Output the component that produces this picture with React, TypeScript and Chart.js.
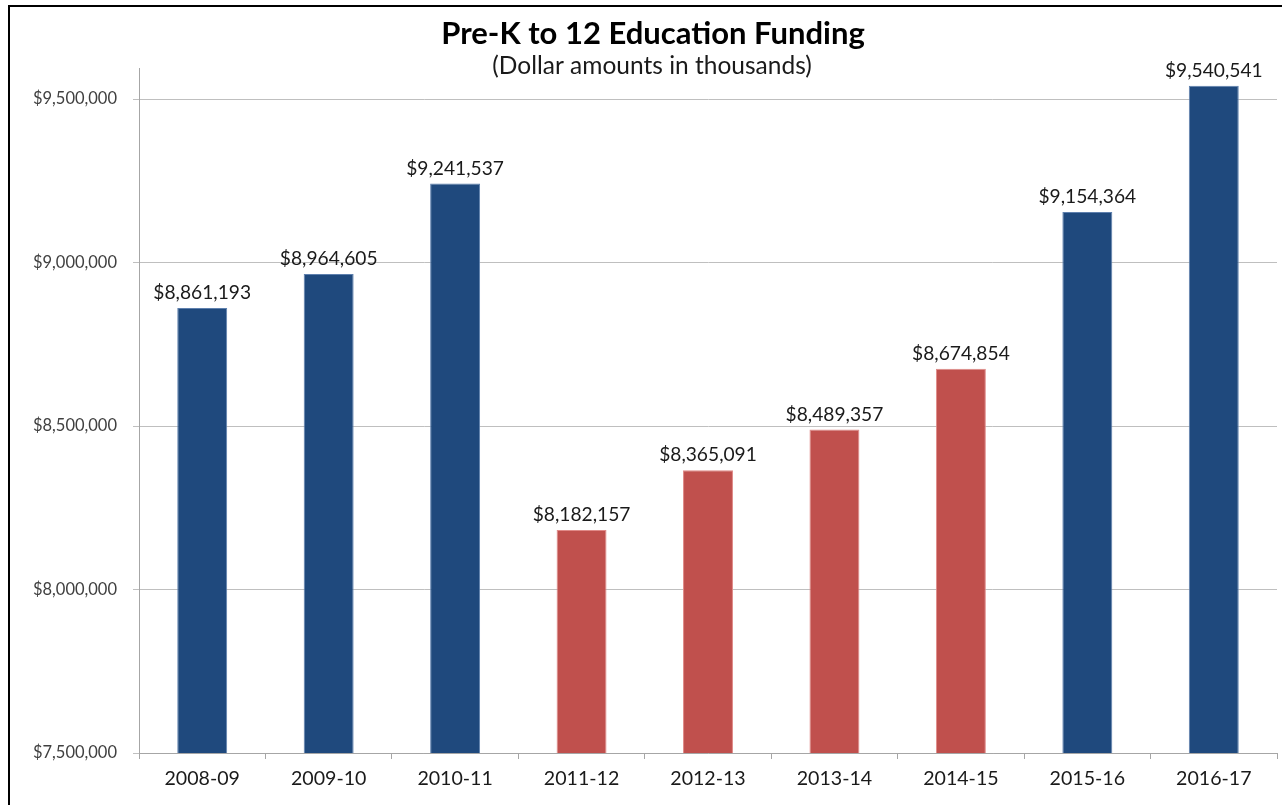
import React, { useEffect, useRef } from "react";
import { Chart, registerables } from "chart.js";

Chart.register(...registerables);

const categories = ["2008-09", "2009-10", "2010-11", "2011-12", "2012-13", "2013-14", "2014-15", "2015-16", "2016-17"];
const funding = [8861193, 8964605, 9241537, 8182157, 8365091, 8489357, 8674854, 9154364, 9540541];
const isReduced = [false, false, false, true, true, true, true, false, false];
const titleText = "Pre-K to 12 Education Funding";
const subtitleText = "(Dollar amounts in thousands)";

const BLUE = "#1F497D";
const BLUE_EDGE = "#5E80AE";
const RED = "#C0504D";
const RED_EDGE = "#E08A88";
const FONT = "Lato, 'Open Sans', sans-serif";

const fmt = (v: number) => "$" + v.toLocaleString("en-US");

export default function App() {
  const ref = useRef<HTMLCanvasElement | null>(null);
  useEffect(() => {
    if (!ref.current) return;
    const decor = {
      id: "decor",
      afterDraw(chart: any) {
        const ctx = chart.ctx;
        ctx.save();
        // frame
        ctx.strokeStyle = "#000";
        ctx.lineWidth = 2;
        ctx.beginPath();
        ctx.moveTo(9, chart.height);
        ctx.lineTo(9, 6);
        ctx.lineTo(chart.width, 6);
        ctx.stroke();
        // titles
        ctx.fillStyle = "#000";
        ctx.textAlign = "center";
        ctx.textBaseline = "alphabetic";
        ctx.font = `bold 31px ${FONT}`;
        ctx.fillText(titleText, 653, 44);
        ctx.fillStyle = "#1a1a1a";
        ctx.font = `24.5px ${FONT}`;
        ctx.fillText(subtitleText, 652, 74);
        // data labels
        const meta = chart.getDatasetMeta(0);
        ctx.font = `19.2px ${FONT}`;
        ctx.fillStyle = "#1a1a1a";
        meta.data.forEach((bar: any, i: number) => {
          ctx.fillText(fmt(funding[i]), bar.x, bar.y - 9);
        });
        ctx.restore();
      },
    };
    const chart = new Chart(ref.current, {
      type: "bar",
      data: {
        labels: categories,
        datasets: [
          {
            data: funding,
            backgroundColor: isReduced.map((r) => (r ? RED : BLUE)),
            borderColor: isReduced.map((r) => (r ? RED_EDGE : BLUE_EDGE)),
            borderWidth: 1,
            barPercentage: 0.395,
            categoryPercentage: 1,
          },
        ],
      },
      options: {
        animation: false,
        responsive: false,
        maintainAspectRatio: false,
        layout: { padding: { top: 68, right: 5, left: 0, bottom: 0 } },
        plugins: {
          legend: { display: false },
          tooltip: { enabled: false },
          title: { display: false },
        },
        scales: {
          x: {
            offset: true,
            grid: {
              offset: true,
              drawOnChartArea: false,
              drawTicks: true,
              tickLength: 6,
              color: "#A6A6A6",
            },
            border: { color: "#A6A6A6", width: 1 },
            ticks: {
              color: "#1a1a1a",
              font: { family: FONT, size: 19.6 },
              padding: 8,
            },
            afterFit(scale: any) {
              scale.height = 52;
            },
          },
          y: {
            min: 7500000,
            max: 9595000,
            grid: {
              color: "#BFBFBF",
              tickLength: 6,
              drawTicks: true,
            },
            border: { color: "#A6A6A6", width: 1 },
            ticks: {
              stepSize: 500000,
              color: "#404040",
              font: { family: FONT, size: 16.5 },
              padding: 16,
              callback: (v: any) => fmt(Math.round(Number(v))),
            },
            afterBuildTicks(scale: any) {
              const out: any[] = [];
              for (let v = 7500000; v <= 9500000; v += 500000) out.push({ value: v });
              scale.ticks = out;
            },
            afterFit(scale: any) {
              scale.width = 139;
            },
          },
        },
      },
      plugins: [decor],
    });
    return () => chart.destroy();
  }, []);
  return (
    <div style={{ position: "fixed", left: 0, top: 0, width: 1282, height: 805, background: "#fff" }}>
      <canvas ref={ref} width={1282} height={805} style={{ width: 1282, height: 805 }} />
    </div>
  );
}
